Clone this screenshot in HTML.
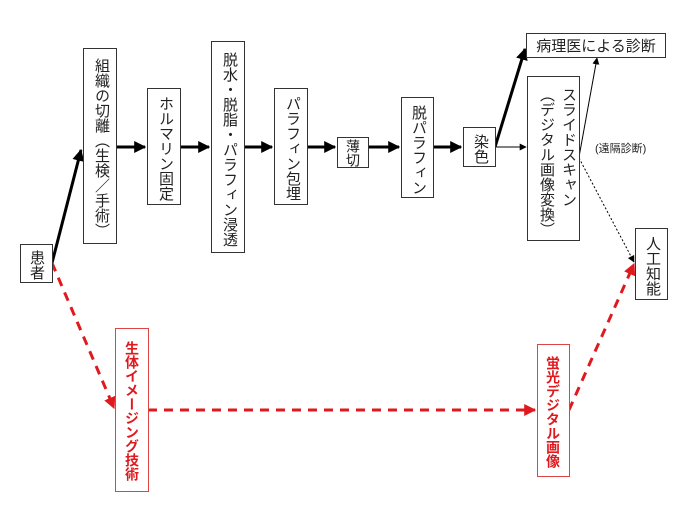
<!DOCTYPE html>
<html><head><meta charset="utf-8"><style>
html,body{margin:0;padding:0;background:#fff}
body{width:692px;height:512px;position:relative;overflow:hidden;font-family:"Liberation Sans","Noto Sans CJK JP",sans-serif}
.b{position:absolute;box-sizing:border-box;border:1px solid #333;background:#fff;color:#222;font-size:15px;display:flex;justify-content:center;align-items:flex-start;white-space:nowrap}
.v{writing-mode:vertical-rl;line-height:30px;padding-top:4px;letter-spacing:0px}
.r{border-color:#d44;color:#e0191e;font-weight:bold;font-size:14px}
svg{position:absolute;left:0;top:0}
</style></head><body>
<svg width="692" height="512">
<defs>
<marker id="a" viewBox="0 0 10 10" refX="9" refY="5" markerWidth="4" markerHeight="4" orient="auto"><path d="M0,0L10,5L0,10z" fill="#000"/></marker>
<marker id="t" viewBox="0 0 10 10" refX="9" refY="5" markerWidth="7" markerHeight="7" orient="auto"><path d="M0,0L10,5L0,10z" fill="#000"/></marker>
<marker id="rd" viewBox="0 0 10 10" refX="9" refY="5" markerWidth="4" markerHeight="4" orient="auto"><path d="M0,0L10,5L0,10z" fill="#e0191e"/></marker>
</defs>
<g stroke="#000" stroke-width="3" fill="none" marker-end="url(#a)">
<line x1="52" y1="263" x2="81" y2="150"/>
<line x1="116" y1="147" x2="145" y2="147"/>
<line x1="180" y1="147" x2="209" y2="147"/>
<line x1="244" y1="147" x2="272" y2="147"/>
<line x1="307" y1="147" x2="335" y2="147"/>
<line x1="368" y1="147" x2="399" y2="147"/>
<line x1="433" y1="147" x2="461" y2="147"/>
<line x1="495" y1="147" x2="525" y2="49"/>
</g>
<g stroke="#000" stroke-width="1" fill="none">
<line x1="495" y1="147" x2="526" y2="147" marker-end="url(#t)"/>
<line x1="579" y1="157" x2="597" y2="58" marker-end="url(#t)"/>
<line x1="579" y1="158" x2="634" y2="262" stroke-dasharray="2,2" marker-end="url(#t)"/>
</g>
<g stroke="#e0191e" stroke-width="3" fill="none" stroke-dasharray="9,7" marker-end="url(#rd)">
<line x1="52" y1="263" x2="114" y2="408"/>
<line x1="148" y1="410" x2="535" y2="410"/>
<line x1="569" y1="410" x2="634" y2="264"/>
</g>
</svg>
<div class="b v" style="left:20px;top:244px;width:33px;height:39px;padding-top:3px;line-height:31px">患者</div>
<div class="b v" style="left:83px;top:48px;width:34px;height:196px">組織の切離（生検／手術）</div>
<div class="b v" style="left:147px;top:88px;width:34px;height:117px">ホルマリン固定</div>
<div class="b v" style="left:211px;top:41px;width:34px;height:212px">脱水・脱脂・パラフィン浸透</div>
<div class="b v" style="left:274px;top:88px;width:34px;height:117px">パラフィン包埋</div>
<div class="b v" style="left:337px;top:137px;width:32px;height:31px;padding-top:0;line-height:30px;font-size:14px;align-items:center">薄切</div>
<div class="b v" style="left:401px;top:97px;width:33px;height:101px">脱パラフィン</div>
<div class="b v" style="left:463px;top:127px;width:33px;height:40px">染色</div>
<div class="b" style="left:526px;top:33px;width:140px;height:25px;align-items:center">病理医による診断</div>
<div class="b v" style="left:527px;top:76px;width:53px;height:165px;line-height:22px;padding-top:6px">スライドスキャン<br>（デジタル画像変換）</div>
<div class="b v" style="left:635px;top:228px;width:33px;height:72px">人工知能</div>
<div style="position:absolute;left:595px;top:140px;font-size:11px;color:#222">(遠隔診断)</div>
<div class="b v r" style="left:115px;top:328px;width:34px;height:164px;line-height:32px;padding-top:2px">生体イメージング技術</div>
<div class="b v r" style="left:537px;top:344px;width:33px;height:133px;line-height:32px;padding-top:2px">蛍光デジタル画像</div>
</body></html>
